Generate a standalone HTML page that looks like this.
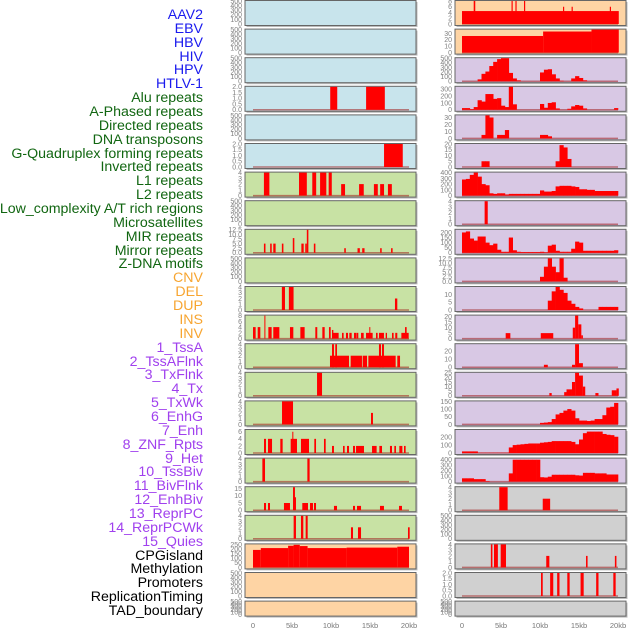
<!DOCTYPE html>
<html><head><meta charset="utf-8">
<style>
html,body{margin:0;padding:0;background:#fff;}
#wrap{position:relative;width:630px;height:630px;overflow:hidden;font-family:"Liberation Sans",sans-serif;}
.lab{position:absolute;right:427px;font-size:14.2px;line-height:14px;white-space:nowrap;text-align:right;}
</style></head>
<body>
<div id="wrap">
<div id="labels"></div>
<svg id="svg" width="630" height="630" style="position:absolute;left:0;top:0"></svg>
</div>
<script>
const labelNames=["AAV2","EBV","HBV","HIV","HPV","HTLV-1","Alu repeats","A-Phased repeats","Directed repeats","DNA transposons","G-Quadruplex forming repeats","Inverted repeats","L1 repeats","L2 repeats","Low_complexity A/T rich regions","Microsatellites","MIR repeats","Mirror repeats","Z-DNA motifs","CNV","DEL","DUP","INS","INV","1_TssA","2_TssAFlnk","3_TxFlnk","4_Tx","5_TxWk","6_EnhG","7_Enh","8_ZNF_Rpts","9_Het","10_TssBiv","11_BivFlnk","12_EnhBiv","13_ReprPC","14_ReprPCWk","15_Quies","CPGisland","Methylation","Promoters","ReplicationTiming","TAD_boundary"];
const labelGroups=[6,13,5,15,5];
const groupColors=["#1a1aee","#116611","#f7a531","#a040ee","#000000"];
const xTickLabels=["0","5kb","10kb","15kb","20kb"];
const xTickValues=[0,5,10,15,20];
const E=[0,100,200,300,400,500];
const leftBg=["b","b","b","b","b","b","g","g","g","g","g","g","g","g","g","g","g","g","g","o","o","o"];
const leftTicks=[E,E,E,[0,0.5,1,1.5,2],E,[0,0.5,1,1.5,2],[0,1,2,3,4],E,[0,2.5,5,7.5,10,12.5],E,[0,1,2,3,4],[0,2,4,6,8],[0,1,2,3,4],[0,1,2,3,4],[0,1,2,3,4],[0,2,4,6],[0,1,2,3,4],[0,5,10,15],[0,1,2,3,4],[0,50,100,150,200,250],E,E];
const leftMax=[500,500,500,2,500,2,4,500,12.5,500,4,8,4,4,4,6.5,4,16,4,250,500,500];
const leftBars=[[],[],[],
[[9.9,10.8,2],[14.5,16.9,2]],[],
[[16.8,19.2,2]],
[[1.4,2.1,4],[5.9,6.9,4],[7.6,8.1,4],[8.6,9.4,4],[9.7,10.1,4],[11.3,11.8,2],[13.6,14.2,2],[15.5,16,2],[16.3,16.8,2],[17.3,17.8,2]],
[],
[[1.4,1.6,5],[2.2,2.4,5],[2.6,2.9,5],[3.7,3.9,5],[5.1,5.3,8],[6.2,6.5,5],[6.7,6.9,5],[6.9,7.1,12.5],[7.8,8,5],[11.7,11.9,2.5],[13.4,13.7,2.5],[14,14.3,2.5],[16.3,16.5,2.5],[17.7,17.9,2.5]],
[],
[[3.7,4.1,4],[4.6,5.2,4],[18.2,18.5,2]],
[[0,0.34,4],[0.6,0.94,4],[1.46,1.58,8],[1.97,2.39,4],[2.6,3.38,4],[4.74,5.17,4],[6.07,6.62,4],[7.99,8.24,4],[8.89,9.19,4],[9.74,9.96,4],[10.13,10.98,2],[10.13,10.3,3],[11.41,11.62,2],[11.92,12.18,2],[12.35,12.65,2],[12.95,13.29,2],[13.33,13.5,2],[13.85,14.19,2],[14.49,15.34,2],[14.91,15.04,4],[15.77,15.98,2],[16.15,16.79,2],[17.01,17.18,2],[17.82,18.03,2],[18.24,18.5,2],[19.02,19.96,2],[19.49,19.7,4]],
[[9.87,12.31,2],[12.52,13.97,2],[14.06,14.62,2],[14.79,18.29,2],[18.5,18.85,2],[10.13,10.38,4],[10.55,10.77,4],[16.15,16.41,4],[16.54,16.79,4]],
[[8.21,8.85,4]],
[[3.72,5.13,4],[15.13,15.38,2]],
[[1.41,1.67,4],[1.92,2.44,4],[3.5,3.8,4],[4.83,5.64,4],[5.04,5.17,6],[6.15,7.18,4],[7.86,8.08,4],[9.1,9.32,4],[10.13,10.38,2],[11.54,11.75,2],[12.05,12.31,2],[12.82,13.08,2],[13.21,14.23,2],[15.26,15.85,2],[16.2,16.54,2],[17.56,17.82,2],[18.12,18.33,2],[18.76,19.15,2],[19.36,19.57,2]],
[[1.2,1.54,4],[6.97,7.26,4]],
[[1.41,1.67,5],[1.92,2.18,5],[3.97,4.74,5],[5.13,5.38,16],[5.3,5.51,9],[6.32,7.05,5],[7.31,7.69,5],[7.82,8.08,5],[10.38,10.77,3],[12.82,13.08,3],[13.33,13.85,3],[16.28,16.79,3],[18.72,19.1,3]],
[[5.21,5.51,4],[6.15,6.45,4],[6.75,7.01,4],[12.56,12.82,2],[13.46,13.85,2],[19.87,20.09,2]],
[[0,1,190],[1,4.5,210],[4.5,5.2,235],[5.2,6,245],[6,7,232],[7,12,210],[12,18.5,215],[18.5,20,225]],
[],[]];
const rightBg=["o","o","p","p","p","p","p","p","p","p","p","p","p","p","p","p","p","r","r","r","r","r"];
const rightTicks=[[0,2,4,6,8],[0,10,20,30],E,[0,100,200,300],[0,10,20,30],[0,5,10,15,20],[0,100,200,300,400],[0,1,2,3,4],[0,50,100,150,200],[0,2.5,5,7.5,10,12.5],[0,5,10],[0,5,10,15,20],[0,10,20],[0,5,10,15,20,25],[0,50,100,150],[0,100,200],[0,100,200,300,400],[0,1,2,3,4],E,[0,1,2,3,4],[0,0.5,1,1.5,2],E];
const rightMax=[8,36,500,336,33,20,400,4,226,12.5,14.8,21,28.5,25,150,290,420,4,500,4,2,500];
const rightBins=[null,null,
[0,0,0,0,40,160,210,330,420,480,500,500,180,60,20,0,0,0,0,0,190,250,260,150,60,10,0,0,60,110,70,20,0,0,0,0,0,0,0,0],
[25,25,10,40,140,120,230,230,160,170,60,40,340,80,0,0,0,0,0,0,85,30,100,110,20,0,0,15,50,70,60,20,0,0,0,0,0,0,0,25],
[0,0,0,0,0,5,33,30,0,5,5,12,0,0,0,0,0,0,0,0,5,5,3,0,0,0,0,0,0,0,0,0,0,0,0,0,0,0,0,0],
[0,0,0,0,0,5,5,0,0,0,0,0,0,0,0,0,0,0,0,0,0,0,0,0,5,19,17,7,0,0,0,0,0,0,0,0,0,0,0,0],
[280,290,360,400,330,200,180,40,30,40,40,20,30,30,30,30,30,30,30,30,90,70,70,80,160,170,170,170,160,150,110,110,100,100,80,80,80,80,80,80],
null,
[200,210,140,120,160,160,100,75,90,30,10,10,150,25,10,8,8,8,8,8,10,5,70,80,20,10,10,10,40,110,100,20,20,20,20,20,20,20,20,25],
[0,0,0,0,0,0,0,0,0,0,0,0,0,0,0,0,0,0,0,0,2.5,8,12.5,8,5,12.5,2,0,0,0,0,0,0,0,0,0,0,0,0,0],
[0,0,0,0,0,0,0,0,0,0,0,0,0,0,0,0,0,0,0,0,0,0,6,12,15,13,11,6,4,2,1,0,0,0,0,2,2,2,2,2],
null,null,null,
[0,0,0,0,0,0,0,0,0,0,0,0,0,0,0,0,0,0,0,0,10,12,15,35,65,75,90,100,90,40,25,25,22,25,35,35,60,110,115,140],
[20,20,20,20,3,3,3,3,3,3,3,3,70,100,105,110,115,120,120,120,130,135,140,150,150,150,150,150,140,110,170,250,270,270,270,270,240,230,225,205],
[60,60,60,45,45,45,10,0,0,0,0,0,150,400,400,400,400,400,400,400,80,75,90,125,125,125,125,125,125,115,110,160,160,160,150,150,150,130,130,130],
null,null,null,null,null];
const rightBars=[
[[0,20.1,4.5],[1.5,1.7,8],[6.35,6.5,8],[6.85,7,8],[7.95,8.1,8],[12.95,13.1,6],[14.05,14.2,6],[18.95,19.1,6]],
[[0,10.4,26],[10.4,16.6,33],[16.6,20.1,36]],
[],[],[],[],[],
[[2.9,3.3,4]],
[],[],[],
[[5.6,6.2,5],[10.1,11.7,5],[14.2,14.5,10],[14.5,14.9,21],[14.9,15.3,13],[15.3,15.5,3]],
[[10.5,11,3],[14.1,14.5,3],[14.5,15,30],[15,15.5,5]],
[[11.2,11.5,3],[13.1,13.4,4],[13.4,14.1,7],[14.1,14.5,15],[14.5,15,25],[15,15.5,22],[15.5,15.8,10],[17.1,17.5,3],[19.2,19.8,6],[19.8,20.1,8]],
[],[],[],
[[4.78,5.85,4],[10.35,11.3,2]],
[],
[[3.7,3.9,4],[4.1,4.6,4],[4.96,5.64,4],[10.8,11.2,2],[15.9,16.1,2],[19.6,19.8,2]],
[[10.13,10.35,2],[11.3,11.7,2],[12.2,12.5,2],[13.5,13.8,2],[15.2,15.6,2],[17.2,17.5,2],[19.4,19.7,2]],
[]];
const BG={b:"#c8e4ec",g:"#c8e2a4",o:"#fed4a4",p:"#d8c8e4",r:"#d0d0d0"};
const NS="http://www.w3.org/2000/svg";
const svg=document.getElementById('svg');
function mk(tag,attrs,parent){const e=document.createElementNS(NS,tag);for(const k in attrs)e.setAttribute(k,attrs[k]);(parent||svg).appendChild(e);return e;}

const labDiv=document.getElementById('labels');
let gi=0,cnt=0;
labelNames.forEach((n,i)=>{
  while(cnt>=labelGroups[gi]){cnt=0;gi++;}
  cnt++;
  const d=document.createElement('div');
  d.className='lab';
  
  
  d.style.top=(15+i*13.86-7)+'px';
  d.style.color=groupColors[gi];
  d.textContent=n;
  labDiv.appendChild(d);
});

function panel(col,i,bg,ticks,ymax,bars,bins){
  const px=col===0?245:455, x0=col===0?253:462, W=171;
  const T=i*28.6+0.5, H=(i===21)?15:25;
  const kx=kb=>x0+kb*7.8;
  const ky=v=>T+H-1.5-Math.min(v,ymax)/ymax*(H-2);
  const g=mk('g',{});
  
  
  mk('rect',{x:px+1.5,y:T+1.5,width:W,height:H,fill:'#bbb'},g);
  mk('rect',{x:px,y:T,width:W,height:H,fill:BG[bg],stroke:'#666','stroke-width':1},g);
  const dec=ticks.some(t=>t%1!==0);
  ticks.forEach(t=>{
    const tx=mk('text',{x:px-3,y:ky(t)+2.4,'font-size':'7','text-anchor':'end',fill:'#808080','font-family':'Liberation Sans, sans-serif'},g);
    
    
    tx.textContent=dec?t.toFixed(1):String(t);
  });
  const hasData=(bars&&bars.length)||bins;
  if(hasData) mk('line',{x1:kx(0),x2:kx(20),y1:T+H-1.5,y2:T+H-1.5,stroke:'rgba(160,30,30,0.55)','stroke-width':1.5},g);
  if(bins){
    bins.forEach((v,b)=>{
      if(v<=0)return;
      const r=mk('rect',{x:kx(b*0.5),y:ky(v),width:0.5*7.8+0.3,height:T+H-1.5-ky(v),fill:'#ff0000'},g);
      
      
    });
  }
  (bars||[]).forEach(b=>{
    const r=mk('rect',{x:kx(b[0]),y:ky(b[2]),width:Math.max(1,(b[1]-b[0])*7.8),height:T+H-1.5-ky(b[2]),fill:'#ff0000'},g);
    
    
  });
}
for(let i=0;i<22;i++){
  panel(0,i,leftBg[i],leftTicks[i],leftMax[i],leftBars[i],null);
  panel(1,i,rightBg[i],rightTicks[i],rightMax[i],rightBars[i],rightBins[i]);
}
[253,462].forEach(x0=>{
  xTickValues.forEach((v,j)=>{
    const t=mk('text',{x:x0+v*7.8,y:628,'font-size':'7.5','text-anchor':'middle',fill:'#777','font-family':'Liberation Sans, sans-serif'});
    
    
    t.textContent=xTickLabels[j];
  });
});
</script>
</body></html>
